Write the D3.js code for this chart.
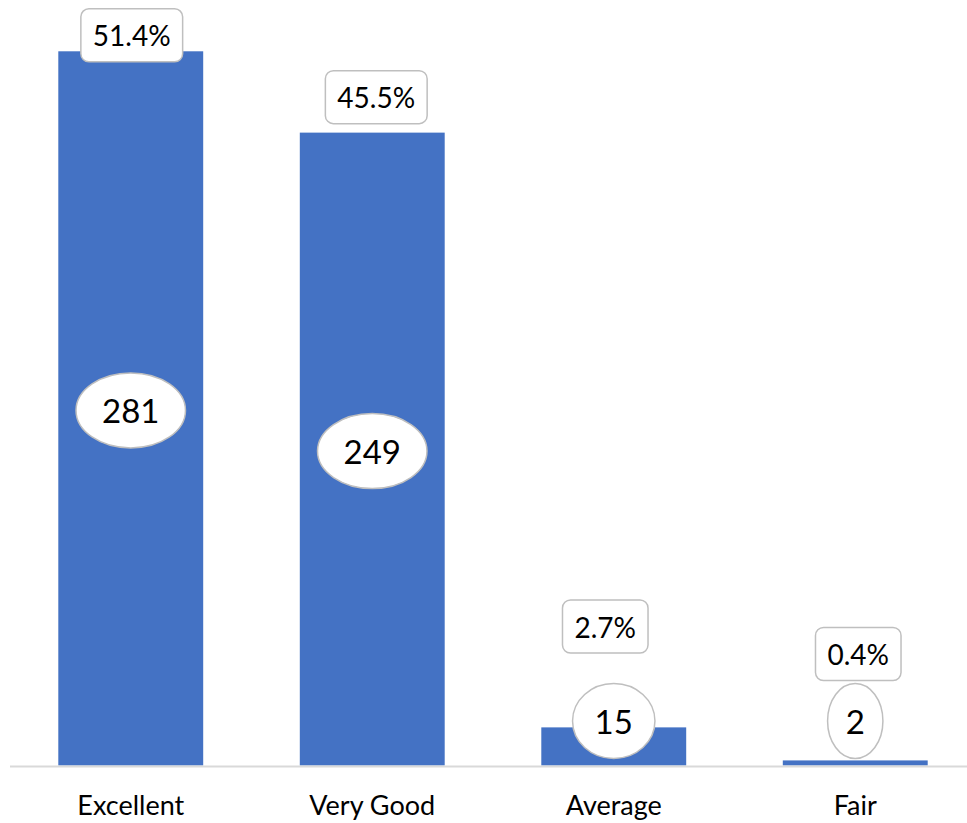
<!DOCTYPE html>
<html>
<head>
<meta charset="utf-8">
<script src="https://cdn.jsdelivr.net/npm/d3@7"></script>
<style>
  html, body { margin: 0; padding: 0; background: #ffffff; }
  svg { display: block; }
  text { font-family: Lato, "Open Sans", sans-serif; fill: #000; }
</style>
</head>
<body>
<svg id="chart" width="967" height="823"></svg>
<script>
// ---- data ----
const categories = ["Excellent", "Very Good", "Average", "Fair"];
const counts = [281, 249, 15, 2];
const percentLabels = ["51.4%", "45.5%", "2.7%", "0.4%"];

// ---- layout (not data) ----
const W = 967, H = 823;
const baseY = 765.5;
const barColor = "#4472C4";
// manual nudges of the percent boxes (dx, lift above anchor)
const pctNudge = [[1, 16], [4, 35.5], [-8.5, 57], [3, 29.5]];
const ellipseRy = 37.5;
const ellipseMaxCy = 721;

const svg = d3.select("#chart");

const x = d3.scaleBand()
  .domain(categories)
  .range([10, 976])
  .paddingInner(0.4)
  .paddingOuter(0.2);

const y = d3.scaleLinear()
  .domain([0, 300])
  .range([baseY, 3]);

const rows = categories.map((c, i) => ({ c, v: counts[i], p: percentLabels[i], i }));

// bars
svg.append("g").selectAll("rect")
  .data(rows).join("rect")
  .attr("x", d => x(d.c))
  .attr("y", d => y(d.v))
  .attr("width", x.bandwidth())
  .attr("height", d => y(0) - y(d.v))
  .attr("fill", barColor);

// axis line
const axis = d3.axisBottom(x).tickSize(0).tickPadding(29);
const gAxis = svg.append("g")
  .attr("transform", `translate(0,${baseY + 1})`)
  .call(axis);
gAxis.select(".domain").remove();
gAxis.append("line")
  .attr("x1", 10).attr("x2", W)
  .attr("y1", 0).attr("y2", 0)
  .attr("stroke", "#d9d9d9").attr("stroke-width", 2);
gAxis.selectAll(".tick text")
  .style("font-family", "Lato, 'Open Sans', sans-serif")
  .attr("font-size", 27)
  .attr("fill", "#000");

// count ellipses
const gE = svg.append("g").selectAll("g")
  .data(rows).join("g");

gE.each(function(d) {
  const g = d3.select(this);
  const cx = x(d.c) + x.bandwidth() / 2;
  const mid = (y(d.v) + y(0)) / 2 + 2;
  const cy = Math.min(mid, ellipseMaxCy);
  d.ecy = cy;
  const t = g.append("text")
    .attr("x", cx).attr("y", cy)
    .attr("text-anchor", "middle")
    .attr("dominant-baseline", "central")
    .attr("font-size", 33)
    .text(d.v);
  const w = t.node().getComputedTextLength();
  const rx = (w / 2 + 10) * 1.414;
  g.insert("ellipse", "text")
    .attr("cx", cx).attr("cy", cy)
    .attr("rx", rx).attr("ry", ellipseRy)
    .attr("fill", "#fff")
    .attr("stroke", "#bfbfbf")
    .attr("stroke-width", 1.5);
});

// percent boxes
const gP = svg.append("g").selectAll("g")
  .data(rows).join("g");

gP.each(function(d) {
  const g = d3.select(this);
  const anchor = Math.min(y(d.v), d.ecy - ellipseRy);
  const cx = x(d.c) + x.bandwidth() / 2 + pctNudge[d.i][0];
  const cy = anchor - pctNudge[d.i][1];
  const t = g.append("text")
    .attr("x", cx).attr("y", cy)
    .attr("text-anchor", "middle")
    .attr("dominant-baseline", "central")
    .attr("font-size", 28)
    .text(d.p);
  const w = t.node().getComputedTextLength();
  const bw = w + 24, bh = 53;
  g.insert("rect", "text")
    .attr("x", cx - bw / 2).attr("y", cy - bh / 2)
    .attr("width", bw).attr("height", bh)
    .attr("rx", 8).attr("ry", 8)
    .attr("fill", "#fff")
    .attr("stroke", "#bfbfbf")
    .attr("stroke-width", 1.5);
});
</script>
</body>
</html>
